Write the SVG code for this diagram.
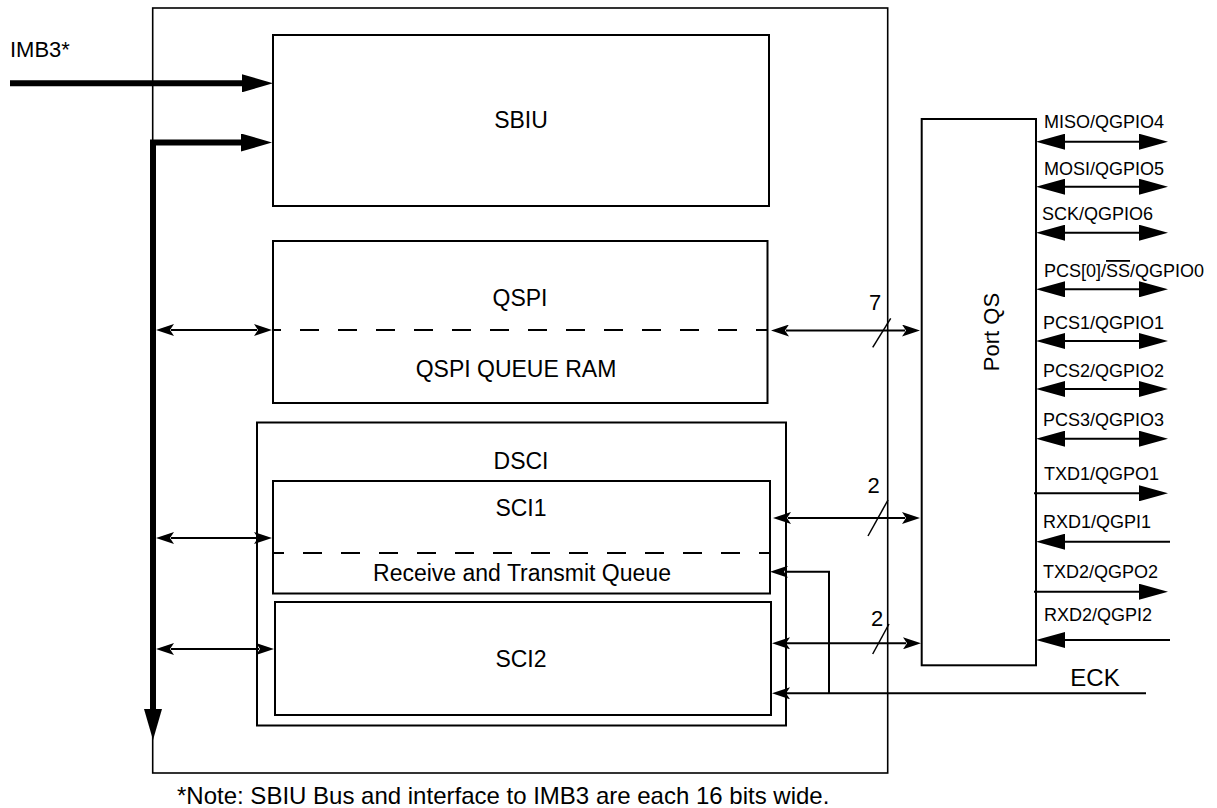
<svg xmlns="http://www.w3.org/2000/svg" width="1217" height="808" viewBox="0 0 1217 808">
<style>
.box{fill:none;stroke:#000;stroke-width:2}
.outer{fill:none;stroke:#000;stroke-width:1.6}
.dash{fill:none;stroke:#000;stroke-width:2;stroke-dasharray:19 19}
.thick{fill:none;stroke:#000;stroke-width:6;stroke-linejoin:miter}
.thin{fill:none;stroke:#000;stroke-width:2}
.sig{fill:none;stroke:#000;stroke-width:2}
.slash{fill:none;stroke:#000;stroke-width:1.5}
text{font-family:"Liberation Sans",Arial,Helvetica,sans-serif;fill:#000}
.lbl{font-size:23px;text-anchor:middle}
.sl{font-size:18px}
.num{font-size:22px;text-anchor:middle}
</style>
<defs>
<marker id="ahThick" viewBox="0 -9 31 18" markerWidth="31" markerHeight="18" refX="1" refY="0" markerUnits="userSpaceOnUse" orient="auto-start-reverse"><path d="M0,-9 L31,0 L0,9 z" fill="#000"/></marker>
<marker id="ahThin" viewBox="0 -6 18 12" markerWidth="18" markerHeight="12" refX="3" refY="0" markerUnits="userSpaceOnUse" orient="auto-start-reverse"><path d="M0,-6 L18,0 L0,6 L4,0 z" fill="#000"/></marker>
<marker id="ahBig" viewBox="0 -8 29 16" markerWidth="29" markerHeight="16" refX="1" refY="0" markerUnits="userSpaceOnUse" orient="auto-start-reverse"><path d="M0,-8 L29,0 L0,8 z" fill="#000"/></marker>
</defs>
<rect width="1217" height="808" fill="#fff"/>

<g id="outer"><rect class="outer" x="152.7" y="8" width="735" height="765"/></g>

<g id="sbiu"><rect class="box" x="273" y="35" width="496" height="171"/><text class="lbl" x="521" y="128">SBIU</text></g>

<g id="qspi"><rect class="box" x="273" y="241" width="494.5" height="162"/>
<line class="dash" x1="273" y1="330" x2="767.5" y2="330" stroke-dashoffset="11"/>
<text class="lbl" x="520" y="306">QSPI</text><text class="lbl" x="516" y="377">QSPI QUEUE RAM</text></g>

<g id="dsci"><rect class="box" x="257" y="422.5" width="529" height="303"/><text class="lbl" x="521" y="469">DSCI</text></g>

<g id="sci1"><rect class="box" x="273" y="481" width="497" height="112.5"/>
<line class="dash" x1="273" y1="553" x2="770" y2="553" stroke-dashoffset="8"/>
<text class="lbl" x="521" y="516">SCI1</text><text class="lbl" x="522" y="581">Receive and Transmit Queue</text></g>

<g id="sci2"><rect class="box" x="275" y="602" width="496" height="113"/><text class="lbl" x="521" y="667">SCI2</text></g>

<g id="portqs"><rect class="box" x="921.7" y="119" width="114.3" height="546.3"/><text font-size="22" text-anchor="middle" transform="translate(999,332) rotate(-90)">Port QS</text></g>

<g id="labels">
<text font-size="22" x="10" y="57">IMB3*</text>
<text font-size="24" x="1095" y="686" text-anchor="middle">ECK</text>
<text class="num" x="875" y="310">7</text>
<text class="num" x="873.5" y="493">2</text>
<text class="num" x="877" y="626">2</text>
<text class="sl" x="1044" y="128">MISO/QGPIO4</text>
<text class="sl" x="1044" y="175">MOSI/QGPIO5</text>
<text class="sl" x="1042" y="220">SCK/QGPIO6</text>
<text class="sl" x="1044" y="277">PCS[0]/<tspan text-decoration="overline">SS</tspan>/QGPIO0</text>
<text class="sl" x="1043" y="329">PCS1/QGPIO1</text>
<text class="sl" x="1043" y="377">PCS2/QGPIO2</text>
<text class="sl" x="1043" y="426">PCS3/QGPIO3</text>
<text class="sl" x="1044" y="480">TXD1/QGPO1</text>
<text class="sl" x="1043" y="528">RXD1/QGPI1</text>
<text class="sl" x="1043" y="578">TXD2/QGPO2</text>
<text class="sl" x="1044" y="621">RXD2/QGPI2</text>
<text font-size="24" x="177" y="804">*Note: SBIU Bus and interface to IMB3 are each 16 bits wide.</text>
</g>

<g id="connectors">
<line class="thick" x1="10" y1="83.3" x2="243" y2="83.3" marker-end="url(#ahThick)"/>
<path class="thick" d="M242,142.5 H153 V710" marker-start="url(#ahThick)" marker-end="url(#ahThick)"/>

<line class="thin" x1="171" y1="330" x2="257" y2="330" marker-start="url(#ahThin)" marker-end="url(#ahThin)"/>
<line class="thin" x1="171" y1="538" x2="257" y2="538" marker-start="url(#ahThin)" marker-end="url(#ahThin)"/>
<line class="thin" x1="171" y1="649" x2="259" y2="649" marker-start="url(#ahThin)" marker-end="url(#ahThin)"/>

<line class="thin" x1="786" y1="330.5" x2="905" y2="330.5" marker-start="url(#ahThin)" marker-end="url(#ahThin)"/>
<line class="thin" x1="788" y1="518" x2="905" y2="518" marker-start="url(#ahThin)" marker-end="url(#ahThin)"/>
<line class="thin" x1="787" y1="643.3" x2="906" y2="643.3" marker-start="url(#ahThin)" marker-end="url(#ahThin)"/>
<path class="thin" d="M1146,693.3 H787" marker-end="url(#ahThin)"/>
<path class="thin" d="M829,693.3 V571.7 H785" marker-end="url(#ahThin)"/>

<line class="slash" x1="872.7" y1="347.3" x2="890.7" y2="318.3"/>
<line class="slash" x1="868" y1="536" x2="888" y2="500"/>
<line class="slash" x1="872.7" y1="654" x2="889" y2="624"/>

<line class="sig" x1="1064" y1="141.7" x2="1140" y2="141.7" marker-start="url(#ahBig)" marker-end="url(#ahBig)"/>
<line class="sig" x1="1064" y1="186.7" x2="1140" y2="186.7" marker-start="url(#ahBig)" marker-end="url(#ahBig)"/>
<line class="sig" x1="1064" y1="232.7" x2="1140" y2="232.7" marker-start="url(#ahBig)" marker-end="url(#ahBig)"/>
<line class="sig" x1="1064" y1="289.3" x2="1140" y2="289.3" marker-start="url(#ahBig)" marker-end="url(#ahBig)"/>
<line class="sig" x1="1064" y1="341" x2="1140" y2="341" marker-start="url(#ahBig)" marker-end="url(#ahBig)"/>
<line class="sig" x1="1064" y1="389" x2="1140" y2="389" marker-start="url(#ahBig)" marker-end="url(#ahBig)"/>
<line class="sig" x1="1064" y1="438.7" x2="1140" y2="438.7" marker-start="url(#ahBig)" marker-end="url(#ahBig)"/>
<line class="sig" x1="1034" y1="493.3" x2="1140" y2="493.3" marker-end="url(#ahBig)"/>
<line class="sig" x1="1170" y1="541.7" x2="1064" y2="541.7" marker-end="url(#ahBig)"/>
<line class="sig" x1="1034" y1="591.7" x2="1140" y2="591.7" marker-end="url(#ahBig)"/>
<line class="sig" x1="1170" y1="640" x2="1064" y2="640" marker-end="url(#ahBig)"/>
</g>
</svg>
